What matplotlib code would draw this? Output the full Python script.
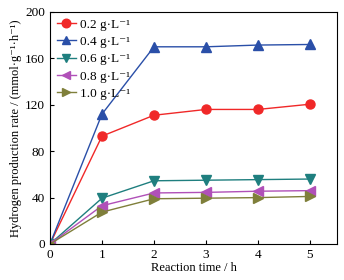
import matplotlib
matplotlib.use("Agg")
import matplotlib.pyplot as plt

time_h = [0, 1, 2, 3, 4, 5]
labels = ["0.2 g·L⁻¹", "0.4 g·L⁻¹", "0.6 g·L⁻¹", "0.8 g·L⁻¹", "1.0 g·L⁻¹"]
rate_02 = [0, 93, 111, 116, 116, 120.5]
rate_04 = [0, 112, 170, 170, 171.5, 172]
rate_06 = [0, 39.5, 54.5, 55, 55.5, 56]
rate_08 = [0, 33, 44, 44.5, 45.5, 46]
rate_10 = [0, 27.5, 39, 39.5, 40, 41]

series = [rate_02, rate_04, rate_06, rate_08, rate_10]
colors = ["#f02828", "#2a4fa8", "#1f7f7f", "#b050b8", "#7f7f3a"]
markers = ["o", "^", "v", "<", ">"]

plt.rcParams['font.family'] = ['Liberation Serif', 'DejaVu Serif']
plt.rcParams['mathtext.fontset'] = 'stix'

fig = plt.figure(figsize=(3.44, 2.80), dpi=100)
ax = fig.add_axes([50/344, 1 - 244/280, 287/344, 232/280])

for vals, lab, c, m in zip(series, labels, colors, markers):
    ax.plot(time_h, vals, color=c, marker=m, markersize=6.5, linewidth=1.0, label=lab)

ax.set_xlim(0, 5.52)
ax.set_ylim(0, 200)
ax.set_xticks([0, 1, 2, 3, 4, 5])
ax.set_yticks([0, 40, 80, 120, 160, 200])
ax.tick_params(direction='in', labelsize=9.5, length=3, width=0.8)
for s in ax.spines.values():
    s.set_linewidth(0.8)
ax.set_xlabel("Reaction time / h", fontsize=9, labelpad=1)
ax.set_ylabel("Hydrogen production rate / (mmol·g⁻¹·h⁻¹)", fontsize=9, labelpad=2)
ax.legend(loc='upper left', fontsize=9.5, frameon=False, handlelength=1.5,
          handletextpad=0.3, labelspacing=0.38, borderaxespad=0.25,
          borderpad=0.25, markerscale=0.95)

fig.savefig("out.png", dpi=100)
